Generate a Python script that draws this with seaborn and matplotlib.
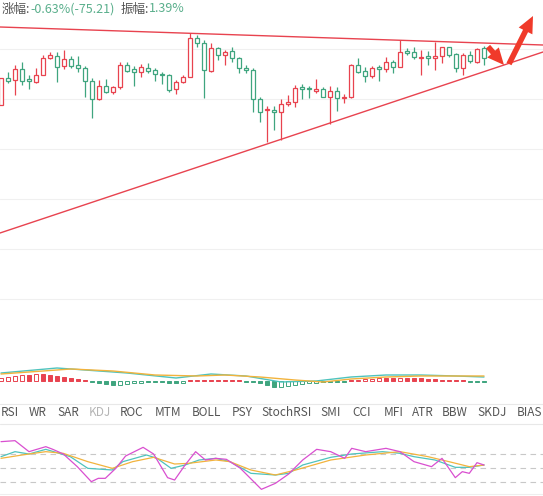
import numpy as np
import pandas as pd
import matplotlib
matplotlib.use("Agg")
import matplotlib.pyplot as plt
import seaborn as sns

sns.set_style("white")
plt.rcParams['font.family'] = ['Noto Sans CJK SC', 'DejaVu Sans']

RED = '#e8434f'
GREEN = '#3fa57f'

# candles: (body_top, body_bottom, wick_top, wick_bottom, up?) in screen-depth units (bigger = lower price)
candles = [
    (235, 315, 235, 315, 1), (233, 242, 215, 250, 0), (208, 240, 195, 285, 1), (208, 242, 185, 255, 0),
    (238, 243, 225, 268, 0), (225, 247, 203, 250, 1), (175, 225, 165, 225, 1), (165, 175, 155, 178, 1),
    (168, 200, 155, 245, 0), (178, 198, 150, 208, 1), (178, 197, 168, 205, 0), (195, 205, 168, 215, 0),
    (205, 243, 198, 290, 0), (243, 298, 235, 355, 0), (258, 298, 240, 300, 1), (258, 277, 238, 280, 0),
    (262, 277, 258, 283, 1), (195, 262, 185, 268, 1), (195, 212, 185, 215, 0), (208, 217, 198, 258, 0),
    (200, 217, 193, 230, 1), (203, 213, 188, 220, 0), (210, 222, 205, 243, 0), (222, 224, 215, 252, 0),
    (225, 270, 222, 275, 0), (245, 268, 240, 282, 1), (230, 245, 225, 248, 1), (115, 230, 100, 230, 1),
    (115, 130, 105, 140, 0), (128, 210, 120, 295, 0), (145, 212, 130, 215, 1), (145, 165, 140, 180, 0),
    (155, 165, 150, 195, 1), (152, 175, 140, 185, 0), (175, 205, 170, 220, 0), (205, 210, 195, 220, 0),
    (210, 298, 205, 335, 0), (298, 335, 292, 365, 0), (328, 330, 318, 425, 1), (330, 335, 318, 390, 0),
    (312, 335, 298, 420, 1), (305, 312, 285, 318, 1), (265, 305, 255, 320, 1), (262, 268, 252, 298, 0),
    (265, 268, 258, 295, 0), (268, 272, 238, 280, 1), (268, 290, 262, 292, 0), (272, 290, 258, 372, 1),
    (272, 295, 262, 332, 0), (290, 295, 282, 308, 1), (195, 292, 192, 295, 1), (195, 215, 175, 218, 0),
    (212, 228, 200, 245, 0), (203, 228, 198, 235, 1), (202, 208, 195, 242, 0), (185, 208, 172, 215, 1),
    (185, 202, 180, 220, 0), (157, 202, 120, 202, 1), (152, 158, 145, 165, 0), (155, 172, 142, 178, 0),
    (170, 173, 150, 225, 1), (168, 175, 152, 195, 0), (168, 175, 125, 210, 1), (142, 168, 140, 190, 1),
    (142, 165, 140, 170, 0), (162, 205, 158, 215, 0), (165, 205, 160, 225, 1), (165, 182, 152, 188, 0),
    (148, 185, 145, 190, 1), (145, 175, 138, 195, 0),
]

macd_hist = [3, 4, 5, 6, 6, 7, 7, 6, 5, 4, 3, 2, 1,
             -1, -2, -3, -3.5, -3.5, -3, -2, -1.5, -1, -1, -1, -1.5, -2, -2,
             1, 1.5, 1, 1, 1, 1, 1, 1,
             -1, -1, -2, -4, -6, -6, -5,
             -4, -3, -2, -1.5, -1, -1, -1, -0.5,
             1, 1.5, 2, 2.5, 3, 3, 3, 3.5, 3.5, 3, 3, 2.5, 2,
             1.5, 1, 1, 1, -1, -1, -1]
dif_x = [0, 8, 12, 18, 25, 30, 35, 40, 45, 50, 55, 60, 65, 69]
dif_y = [8, 13, 11, 8, 3, 7, 5, -1, 0, 4, 6, 6, 5, 4]
dea_x = [0, 6, 10, 16, 22, 28, 32, 37, 42, 46, 50, 55, 60, 65, 69]
dea_y = [7, 10, 12, 10, 6, 5, 6, 4, 1, -1, 2, 4, 5, 5, 5]

# KDJ lines (x in candle index, y in screen-depth units)
j_x = [0, 2, 4, 6.4, 7.4, 8.9, 10.9, 12.9, 13.9, 14.9, 16.4, 17.8, 20.3, 21.8, 23.8, 24.8, 26.3, 27.8,
       29.2, 30.7, 32.2, 34.2, 37.2, 39.2, 41.1, 43.1, 45.1, 47.1, 49.1, 50.1, 52.1, 55.0, 57.0, 59.0,
       61.5, 63.0, 64.9, 65.9, 66.9, 68.0, 69.0]
j_y = [275, 272, 305, 290, 298, 312, 350, 395, 385, 385, 355, 318, 292, 312, 383, 390, 345, 305,
       330, 325, 328, 355, 418, 400, 372, 330, 298, 305, 325, 295, 305, 295, 305, 335,
       350, 325, 383, 365, 370, 338, 345]
k_x = [0, 2, 4, 6.4, 9.9, 12.4, 15.9, 17.4, 20.8, 22.3, 24.3, 26.3, 28.3, 30.7, 32.7, 35.7, 39.2,
       41.1, 43.1, 47.1, 50.1, 54.5, 57.0, 59.0, 62.0, 64.9, 66.9, 69.0]
k_y = [320, 305, 312, 298, 320, 355, 360, 335, 315, 325, 355, 345, 330, 325, 335, 370, 375,
       370, 345, 322, 312, 305, 310, 320, 330, 352, 352, 345]
d_x = [0, 3, 6.4, 8.9, 12.4, 15.9, 18.8, 21.8, 24.8, 26.8, 30.7, 32.7, 35.7, 39.2, 42.1, 47.1,
       52.1, 57.0, 61.0, 64.0, 66.9, 69.0]
d_y = [325, 315, 305, 310, 335, 355, 335, 322, 342, 340, 330, 335, 360, 375, 360, 330,
       315, 305, 320, 335, 350, 345]

tabs = ['RSI', 'WR', 'SAR', 'KDJ', 'ROC', 'MTM', 'BOLL', 'PSY', 'StochRSI', 'SMI', 'CCI',
        'MFI', 'ATR', 'BBW', 'SKDJ', 'BIAS']
tab_x = [10, 38, 68, 100, 132, 168, 206, 242, 287, 331, 362, 394, 423, 455, 492, 530]

W, H = 543, 496
fig = plt.figure(figsize=(W / 100, H / 100), dpi=100)


def px_axes(top, bottom):
    ax = fig.add_axes([0, 1 - bottom / H, 1, (bottom - top) / H])
    ax.set_axis_off()
    ax.set_xlim(-1 / 7, 542 / 7)
    return ax


def ix(px):
    return (px - 1) / 7


# --- main candle chart ---
ax = px_axes(0, 340)
ax.set_ylim(1020, 0)
for g in [148, 298, 448, 598, 748, 898]:
    ax.axhline(g, color='#f0f0f0', lw=0.8, zorder=0)
df = pd.DataFrame(candles, columns=['top', 'bot', 'hi', 'lo', 'up'])
for i, r in df.iterrows():
    c = RED if r.up else GREEN
    ax.vlines(i, r.hi, r.lo, color=c, lw=0.9, zorder=1)
    ax.bar(i, max(r.bot - r.top, 1.5), bottom=r.top, width=0.62, facecolor='white',
           edgecolor=c, lw=0.9, zorder=2)
ax.plot([ix(0), ix(543)], [81, 135], color=RED, lw=1)
ax.plot([ix(0), ix(543)], [699, 156], color=RED, lw=1)
arrow = dict(arrowstyle='simple,head_width=1.1,head_length=1.2,tail_width=0.4',
             color='#f03a2a', lw=0, shrinkA=0, shrinkB=0)
ax.annotate('', xy=(ix(504), 195), xytext=(ix(488), 140), arrowprops=arrow)
ax.annotate('', xy=(ix(533), 48), xytext=(ix(509), 192), arrowprops=arrow)
fs = 9
fig.text(2 / W, 1 - 9 / H, '涨幅:', color='#555555', fontsize=fs, va='center')
fig.text(30 / W, 1 - 9 / H, '-0.63%(-75.21)', color='#5aaf8c', fontsize=fs, va='center')
fig.text(121 / W, 1 - 9 / H, '振幅:', color='#555555', fontsize=fs, va='center')
fig.text(149 / W, 1 - 9 / H, '1.39%', color='#5aaf8c', fontsize=fs, va='center')

# --- MACD ---
mx = px_axes(355, 392)
mx.set_ylim(-11, 26)
prev = 0
for i, h in enumerate(macd_hist):
    c = RED if h > 0 else GREEN
    growing = abs(h) > abs(prev)
    filled = (not growing) if h > 0 else growing
    if abs(h) <= 1:
        filled = True
    mx.bar(i, h, width=0.62, facecolor=c if filled else 'white', edgecolor=c, lw=0.7)
    prev = h
sns.lineplot(x=dif_x, y=dif_y, ax=mx, color='#4ec3bd', lw=1)
sns.lineplot(x=dea_x, y=dea_y, ax=mx, color='#f2b33d', lw=1)
mx.set_axis_off()

# --- tab row ---
for y in [404, 424]:
    fig.add_artist(plt.Line2D([0, 1], [1 - y / H] * 2, color='#e8e8e8', lw=0.8))
for t, x in zip(tabs, tab_x):
    fig.text(x / W, 1 - 413 / H, t, ha='center', va='center', fontsize=8.5,
             color='#b5b5b5' if t == 'KDJ' else '#555555')

# --- KDJ ---
kx = px_axes(430, 496)
kx.set_ylim(438, 240)
for g in [313, 355, 395]:
    kx.axhline(g, color='#c8c8c8', lw=0.8, ls=(0, (5, 4)))
kx.axhline(432, color='#eeeeee', lw=0.8)
sns.lineplot(x=k_x, y=k_y, ax=kx, color='#4ec3bd', lw=0.9)
sns.lineplot(x=d_x, y=d_y, ax=kx, color='#f2b33d', lw=0.9)
sns.lineplot(x=j_x, y=j_y, ax=kx, color='#d94fd0', lw=0.9)
kx.set_axis_off()

fig.savefig('out.png', dpi=100)
